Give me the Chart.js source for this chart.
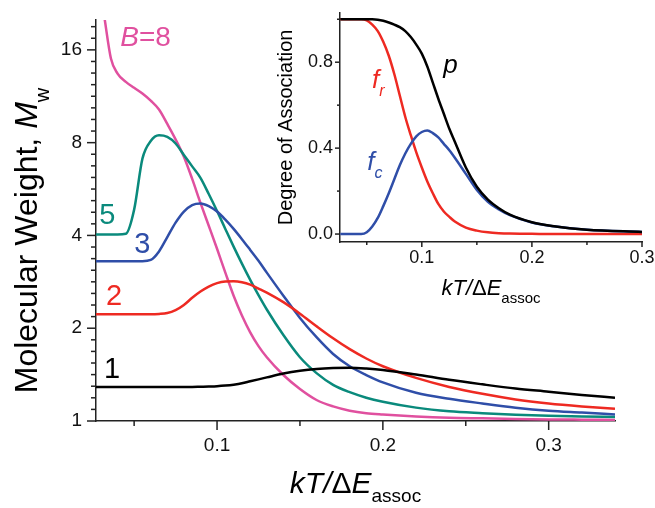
<!DOCTYPE html>
<html lang="en">
<head>
<meta charset="UTF-8">
<title>Molecular weight vs kT/ΔE</title>
<script src="https://cdn.jsdelivr.net/npm/chart.js"></script>
<style>
  body { margin: 0; background: #fff; }
  #wrap { position: relative; width: 655px; height: 508px; }
  #main { position: absolute; left: 0; top: 0; }
  #inset { position: absolute; left: 270px; top: 0; }
</style>
</head>
<body>
<div id="wrap">
  <canvas id="main" width="655" height="508"></canvas>
  <canvas id="inset" width="385" height="310"></canvas>
</div>
<script>
// main panel: weight-average molecular weight for several B
const kT = [0.027, 0.032, 0.036, 0.04, 0.045, 0.05, 0.055, 0.06, 0.065, 0.07, 0.075, 0.08,
  0.085, 0.09, 0.095, 0.1, 0.105, 0.11, 0.115, 0.12, 0.125, 0.13, 0.14, 0.15, 0.16, 0.17,
  0.18, 0.19, 0.2, 0.22, 0.24, 0.26, 0.28, 0.3, 0.32, 0.34];
const mwB1 = [1.29, 1.29, 1.29, 1.29, 1.29, 1.29, 1.29, 1.29, 1.29, 1.29, 1.29, 1.29,
  1.29, 1.292, 1.294, 1.297, 1.303, 1.312, 1.325, 1.345, 1.365, 1.385, 1.425, 1.455, 1.475, 1.485,
  1.488, 1.48, 1.465, 1.415, 1.36, 1.315, 1.275, 1.245, 1.215, 1.19];
const mwB2 = [2.22, 2.22, 2.22, 2.22, 2.22, 2.22, 2.22, 2.22, 2.225, 2.24, 2.29, 2.38,
  2.51, 2.63, 2.73, 2.8, 2.835, 2.84, 2.82, 2.77, 2.69, 2.61, 2.43, 2.23, 2.03, 1.855,
  1.71, 1.595, 1.505, 1.38, 1.29, 1.225, 1.175, 1.14, 1.115, 1.095];
const mwB3 = [3.3, 3.3, 3.3, 3.3, 3.3, 3.3, 3.3, 3.33, 3.55, 3.95, 4.4, 4.78,
  5.02, 5.08, 4.98, 4.78, 4.5, 4.2, 3.89, 3.59, 3.31, 3.03, 2.55, 2.16, 1.87, 1.65,
  1.505, 1.41, 1.335, 1.235, 1.18, 1.14, 1.105, 1.08, 1.065, 1.05];
const mwB5 = [4.03, 4.03, 4.03, 4.03, 4.05, 4.85, 7.1, 8.1, 8.45, 8.35, 7.95, 7.3,
  6.7, 6.15, 5.45, 4.8, 4.2, 3.68, 3.24, 2.87, 2.56, 2.3, 1.9, 1.61, 1.43, 1.31,
  1.24, 1.19, 1.155, 1.105, 1.075, 1.06, 1.048, 1.04, 1.035, 1.03];
const mwB8 = [null, 20.5, 15.0, 13.4, 12.6, 12.05, 11.55, 10.95, 10.25, 9.2, 8.2, 7.2,
  6.1, 5.1, 4.3, 3.62, 3.03, 2.55, 2.2, 1.94, 1.75, 1.61, 1.41, 1.27, 1.17, 1.115,
  1.08, 1.06, 1.05, 1.035, 1.025, 1.02, 1.015, 1.012, 1.01, 1.008];

const mainXTicks = [0.05, 0.1, 0.15, 0.2, 0.25, 0.3];
const mainXLabels = ['0.1', '0.2', '0.3'];
const mainYLabels = ['1', '2', '4', '8', '16'];

// inset: degree of association
const insetKT = [0.026, 0.035, 0.045, 0.05, 0.055, 0.06, 0.065, 0.07, 0.075, 0.08, 0.085,
  0.09, 0.095, 0.1, 0.105, 0.11, 0.115, 0.12, 0.125, 0.13, 0.14, 0.15, 0.16, 0.17, 0.18,
  0.2, 0.22, 0.25, 0.3];
const pAssoc = [1, 1, 1, 1, 1, 0.998, 0.993, 0.985, 0.975, 0.963, 0.945,
  0.917, 0.882, 0.84, 0.78, 0.705, 0.63, 0.56, 0.49, 0.43, 0.31, 0.22, 0.16, 0.12, 0.09,
  0.055, 0.036, 0.02, 0.01];
const fRing = [1, 1, 1, 0.995, 0.975, 0.945, 0.895, 0.83, 0.745, 0.645, 0.545,
  0.46, 0.38, 0.31, 0.245, 0.19, 0.14, 0.105, 0.08, 0.058, 0.03, 0.016, 0.008, 0.004, 0.002,
  0.001, 0, 0, 0];
const fChain = [0, 0, 0, 0.008, 0.035, 0.075, 0.13, 0.19, 0.255, 0.32, 0.375,
  0.42, 0.455, 0.475, 0.482, 0.47, 0.45, 0.42, 0.39, 0.355, 0.28, 0.205, 0.15, 0.115, 0.088,
  0.054, 0.036, 0.02, 0.01];

const insetXTicks = [0.05, 0.1, 0.15, 0.2, 0.25, 0.3];
const insetXLabels = ['0.1', '0.2', '0.3'];
const insetYTicks = [0, 0.2, 0.4, 0.6, 0.8, 1.0];
const insetYLabels = ['0.0', '0.4', '0.8'];

const FONT = "'Liberation Sans', Arial, Helvetica, sans-serif";
const PINK = '#e0509f', TEAL = '#0a8a7c', BLUE = '#2f4ea8', RED = '#ee2a22', BLACK = '#000';
const AXIS = '#222';

const pts = (xs, ys) => xs.map((x, i) => ({ x, y: ys[i] })).filter(p => p.y != null);
const line = (xs, ys, color) => ({
  data: pts(xs, ys), borderColor: color, borderWidth: 2.5, pointRadius: 0,
  cubicInterpolationMode: 'monotone', fill: false
});

// draws a run of text pieces (mixed italic / subscript) starting at x, baseline y
function drawRich(ctx, parts, x, y, align) {
  const fontOf = p => (p.italic ? 'italic ' : '') + p.size + 'px ' + FONT;
  let total = 0;
  parts.forEach(p => { ctx.font = fontOf(p); p.w = ctx.measureText(p.t).width; total += p.w; });
  let cx = align === 'center' ? x - total / 2 : x;
  ctx.textAlign = 'left';
  ctx.textBaseline = 'alphabetic';
  parts.forEach(p => {
    ctx.font = fontOf(p);
    ctx.fillText(p.t, cx, y + (p.dy || 0));
    cx += p.w;
  });
}

// outward tick marks, long on labelled ticks and short on the rest
function tickMarks(major, minor) {
  return {
    id: 'tickMarks',
    afterDraw(chart) {
      const ctx = chart.ctx, a = chart.chartArea;
      ctx.save();
      ctx.strokeStyle = AXIS;
      ctx.lineWidth = 1.5;
      Object.values(chart.scales).forEach(scale => {
        scale.ticks.forEach(t => {
          const len = t.label ? major : minor;
          const p = scale.getPixelForValue(t.value);
          ctx.beginPath();
          if (scale.isHorizontal()) { ctx.moveTo(p, a.bottom); ctx.lineTo(p, a.bottom + len); }
          else { ctx.moveTo(a.left, p); ctx.lineTo(a.left - len, p); }
          ctx.stroke();
        });
      });
      ctx.restore();
    }
  };
}

// curve labels, anchored in data coordinates (left edge, baseline)
function notes(list) {
  return {
    id: 'notes',
    afterDraw(chart) {
      const ctx = chart.ctx;
      ctx.save();
      list.forEach(n => {
        ctx.fillStyle = n.color;
        drawRich(ctx, n.parts, chart.scales.x.getPixelForValue(n.x), chart.scales.y.getPixelForValue(n.y), 'left');
      });
      ctx.restore();
    }
  };
}

// axis titles; yShift moves the rotated title along the axis (positive = down)
function titles(xParts, xOffset, yParts, yOffset, yShift) {
  return {
    id: 'titles',
    afterDraw(chart) {
      const ctx = chart.ctx, a = chart.chartArea;
      ctx.save();
      ctx.fillStyle = BLACK;
      drawRich(ctx, xParts, (a.left + a.right) / 2, a.bottom + xOffset, 'center');
      ctx.translate(a.left - yOffset, (a.top + a.bottom) / 2 + yShift);
      ctx.rotate(-Math.PI / 2);
      drawRich(ctx, yParts, 0, 0, 'center');
      ctx.restore();
    }
  };
}

const baseOpts = {
  responsive: false,
  devicePixelRatio: 1,
  animation: false,
  events: [],
  plugins: { legend: { display: false }, tooltip: { enabled: false } }
};

const pickLabel = (list, digits) => v => {
  const s = digits == null ? String(Math.round(v * 1000) / 1000) : Number(v).toFixed(digits);
  return list.includes(s) ? s : '';
};

new Chart(document.getElementById('main'), {
  type: 'line',
  data: {
    datasets: [
      line(kT, mwB1, BLACK),
      line(kT, mwB2, RED),
      line(kT, mwB3, BLUE),
      line(kT, mwB5, TEAL),
      line(kT, mwB8, PINK)
    ]
  },
  options: {
    ...baseOpts,
    layout: { padding: { top: 20, right: 40, left: 0, bottom: 0 } },
    scales: {
      x: {
        type: 'linear', min: 0.027, max: 0.34,
        afterBuildTicks: s => { s.ticks = mainXTicks.map(v => ({ value: v })); },
        afterFit: s => { s.height = 87; },
        grid: { drawOnChartArea: false, drawTicks: true, tickLength: 9, tickColor: 'transparent' },
        border: { display: true, color: AXIS, width: 1.5 },
        ticks: {
          autoSkip: false, maxRotation: 0, padding: 4, color: '#111',
          font: { family: FONT, size: 19 },
          callback: v => pickLabel(mainXLabels)(v)
        }
      },
      y: {
        type: 'logarithmic', min: 1, max: 20,
        afterBuildTicks: s => {
          const t = [];
          for (let k = 0; Math.pow(2, k / 8) <= 20; k++) t.push({ value: Math.pow(2, k / 8) });
          s.ticks = t;
        },
        afterFit: s => { s.width = 96; },
        grid: { drawOnChartArea: false, drawTicks: true, tickLength: 9, tickColor: 'transparent' },
        border: { display: true, color: AXIS, width: 1.5 },
        ticks: {
          autoSkip: false, padding: 5, color: '#111',
          font: { family: FONT, size: 19 },
          callback: v => pickLabel(mainYLabels)(v)
        }
      }
    }
  },
  plugins: [
    tickMarks(9, 5),
    notes([
      { x: 0.0416, y: 16.5, color: PINK, parts: [{ t: 'B', size: 28, italic: true }, { t: '=8', size: 28 }] },
      { x: 0.0289, y: 4.37, color: TEAL, parts: [{ t: '5', size: 29 }] },
      { x: 0.05, y: 3.52, color: BLUE, parts: [{ t: '3', size: 29 }] },
      { x: 0.0331, y: 2.37, color: RED, parts: [{ t: '2', size: 29 }] },
      { x: 0.0319, y: 1.378, color: BLACK, parts: [{ t: '1', size: 29 }] }
    ]),
    titles(
      [{ t: 'kT/', size: 30, italic: true }, { t: 'Δ', size: 30 }, { t: 'E', size: 30, italic: true }, { t: 'assoc', size: 19, dy: 9 }],
      72,
      [{ t: 'Molecular Weight, ', size: 32 }, { t: 'M', size: 32, italic: true }, { t: 'w', size: 20, dy: 12 }],
      59,
      20
    )
  ]
});

new Chart(document.getElementById('inset'), {
  type: 'line',
  data: {
    datasets: [
      line(insetKT, pAssoc, BLACK),
      line(insetKT, fChain, BLUE),
      line(insetKT, fRing, RED)
    ]
  },
  options: {
    ...baseOpts,
    layout: { padding: { top: 12, right: 13, left: 0, bottom: 0 } },
    scales: {
      x: {
        type: 'linear', min: 0.0257, max: 0.3,
        afterBuildTicks: s => { s.ticks = insetXTicks.map(v => ({ value: v })); },
        afterFit: s => { s.height = 68; },
        grid: { drawOnChartArea: false, drawTicks: true, tickLength: 5, tickColor: 'transparent' },
        border: { display: true, color: AXIS, width: 1.5 },
        ticks: {
          autoSkip: false, maxRotation: 0, padding: 0, color: '#111',
          font: { family: FONT, size: 18 },
          callback: v => pickLabel(insetXLabels)(v)
        }
      },
      y: {
        type: 'linear', min: -0.037, max: 1.03,
        afterBuildTicks: s => { s.ticks = insetYTicks.map(v => ({ value: v })); },
        afterFit: s => { s.width = 70; },
        grid: { drawOnChartArea: false, drawTicks: true, tickLength: 5, tickColor: 'transparent' },
        border: { display: true, color: AXIS, width: 1.5 },
        ticks: {
          autoSkip: false, padding: 2, color: '#111',
          font: { family: FONT, size: 18 },
          callback: v => pickLabel(insetYLabels, 1)(v)
        }
      }
    }
  },
  plugins: [
    tickMarks(5, 3),
    notes([
      { x: 0.1194, y: 0.75, color: BLACK, parts: [{ t: 'p', size: 26, italic: true }] },
      { x: 0.0548, y: 0.68, color: RED, parts: [{ t: 'f', size: 26, italic: true }, { t: 'r', size: 16, italic: true, dy: 8 }] },
      { x: 0.0504, y: 0.296, color: BLUE, parts: [{ t: 'f', size: 26, italic: true }, { t: 'c', size: 16, italic: true, dy: 8 }] }
    ]),
    titles(
      [{ t: 'kT/', size: 22, italic: true }, { t: 'Δ', size: 22 }, { t: 'E', size: 22, italic: true }, { t: 'assoc', size: 15, dy: 8 }],
      53,
      [{ t: 'Degree of Association', size: 20 }],
      48,
      0
    )
  ]
});
</script>
</body>
</html>
